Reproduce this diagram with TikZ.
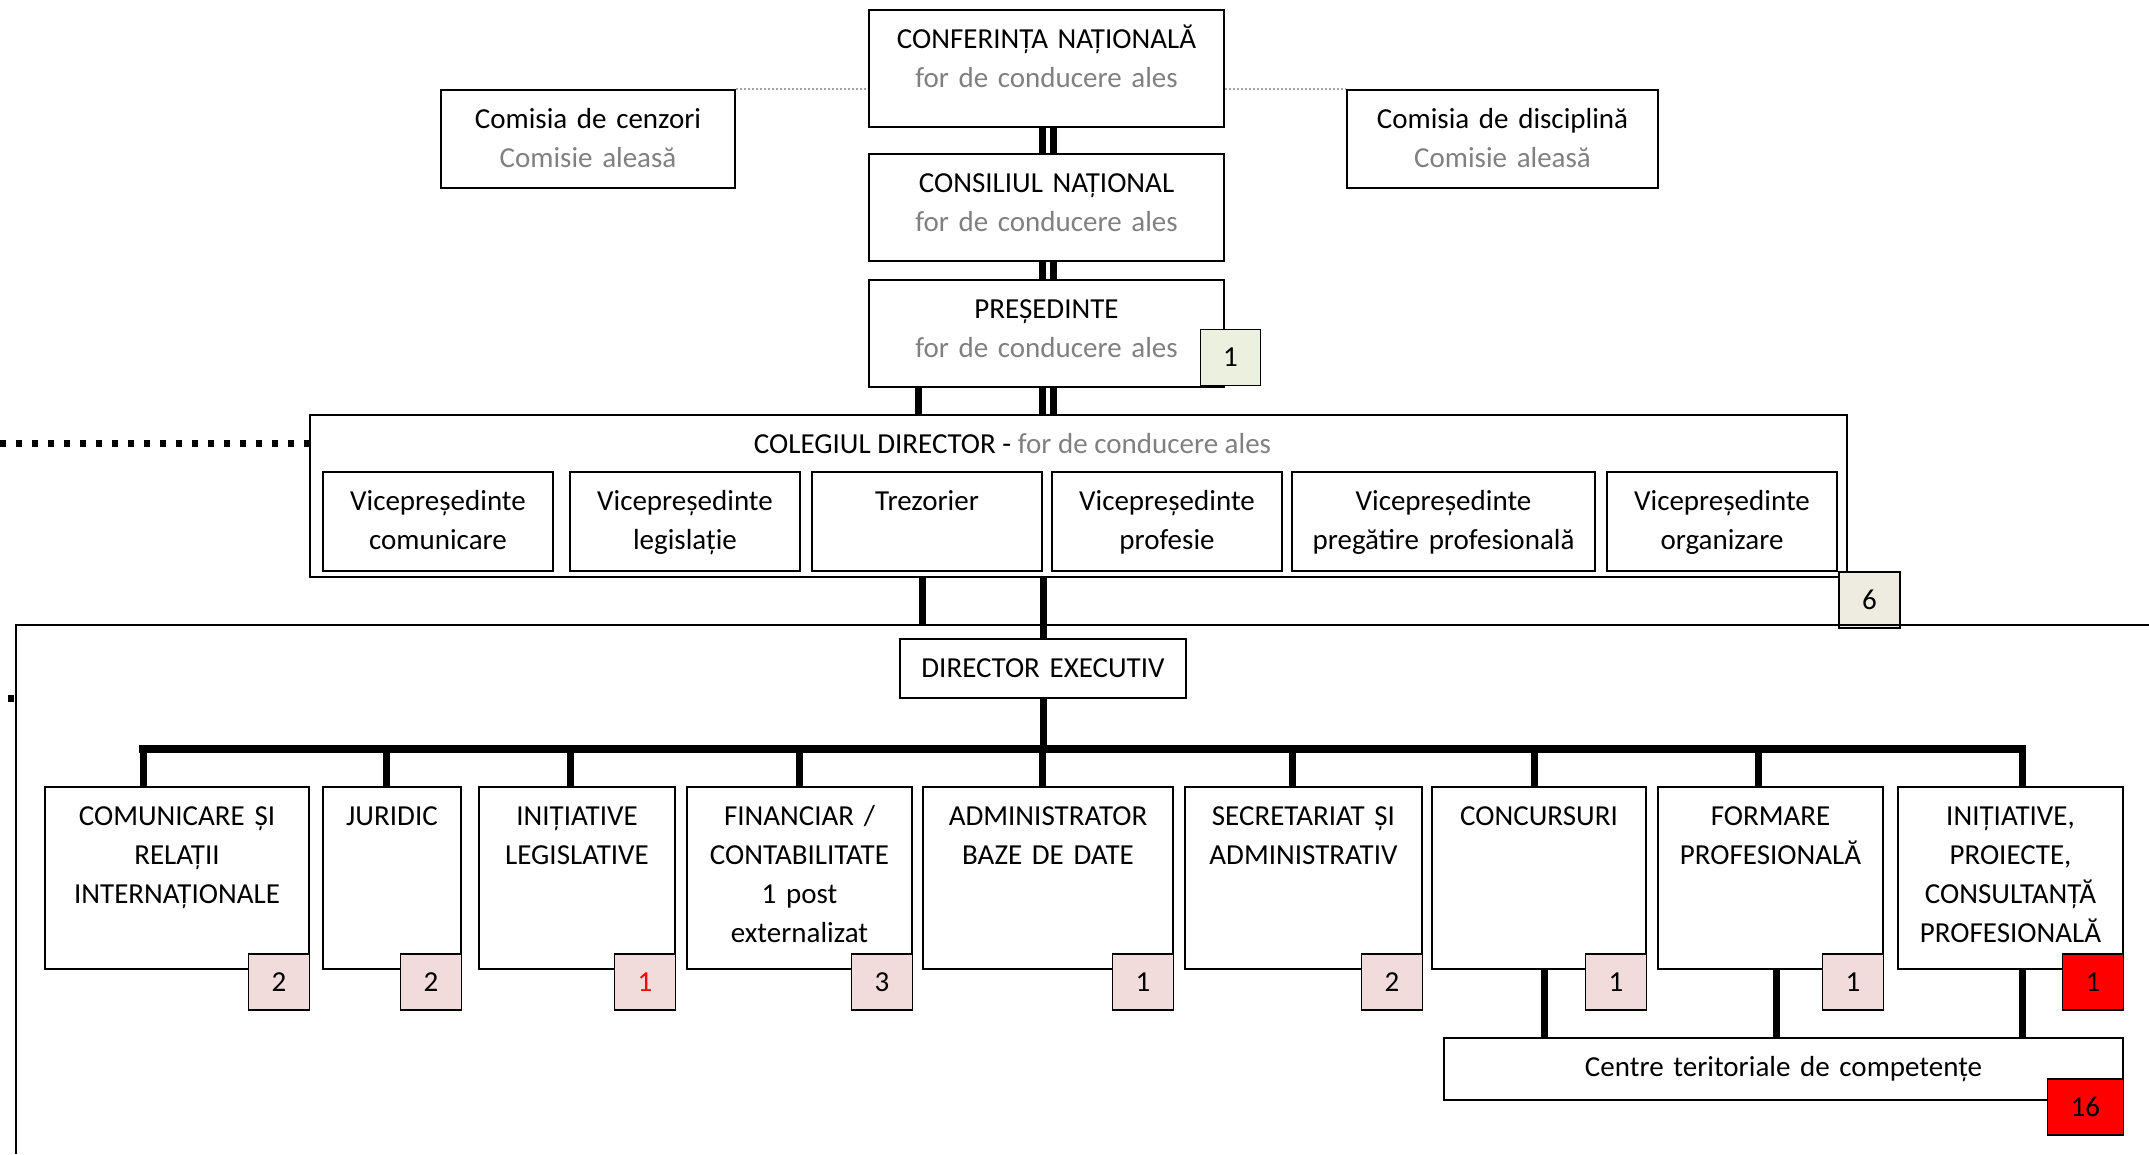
\documentclass[tikz,border=0pt]{standalone}
\usepackage{fontspec}
\setmainfont{Carlito}
\definecolor{grey}{RGB}{128,128,128}
\definecolor{chief}{RGB}{235,241,222}
\definecolor{board}{RGB}{238,236,225}
\definecolor{staff}{RGB}{242,220,219}
\definecolor{alert}{RGB}{255,0,0}
\begin{document}
\begin{tikzpicture}[x=1pt, y=-1pt, every node/.style = {font=\fontsize{29}{39}\selectfont, inner sep=0}]
	\tikzstyle{unit} = [draw, line width=2.3, align=center, text height=38]
	\tikzstyle{tally} = [draw, line width=1.5, minimum width=61, minimum height=56]
	\tikzstyle{link} = [line width=7]
	\tikzstyle{busline} = [line width=8, line cap=rect]
	\tikzstyle{elected} = [grey!70, line width=2, dash pattern=on 2pt off 2pt]
	\tikzstyle{outside} = [line width=7, dash pattern=on 6pt off 10pt]
	\tikzstyle{execframe} = [line width=2]
	\useasboundingbox (0,0) rectangle (2149,1154);
	% foruri alese
	\node[unit, text width=355, text depth=79] (conf) at (1046.5,68.5) {CONFERINȚA NAȚIONALĂ\\\textcolor{grey}{for de conducere ales}};
	\node[unit, text width=355, text depth=69] (cons) at (1046.5,207.5) {CONSILIUL NAȚIONAL\\\textcolor{grey}{for de conducere ales}};
	\node[unit, text width=355, text depth=69] (pres) at (1046.5,333.5) {PREȘEDINTE\\\textcolor{grey}{for de conducere ales}};
	\node[unit, text width=294, text depth=60] (cenz) at (588,139) {Comisia de cenzori\\\textcolor{grey}{Comisie aleasă}};
	\node[unit, text width=311, text depth=60] (disc) at (1502.5,139) {Comisia de disciplină\\\textcolor{grey}{Comisie aleasă}};
	\node[unit, text width=1537, text depth=124] (colegiul) at (1078.5,496) {};
	\node[anchor=base] (coltitle) at (1012.5,453) {COLEGIUL DIRECTOR - \textcolor{grey}{for de conducere ales}};
	\node[unit, text width=230, text depth=61] (vp1) at (438,521.5) {Vicepreședinte\\comunicare};
	\node[unit, text width=230, text depth=61] (vp2) at (685,521.5) {Vicepreședinte\\legislație};
	\node[unit, text width=230, text depth=61] (trez) at (927,521.5) {Trezorier};
	\node[unit, text width=230, text depth=61] (vp3) at (1167,521.5) {Vicepreședinte\\profesie};
	\node[unit, text width=303, text depth=61] (vp4) at (1443.5,521.5) {Vicepreședinte\\pregătire profesională};
	\node[unit, text width=230, text depth=61] (vp5) at (1722,521.5) {Vicepreședinte\\organizare};
	% aparat executiv
	\node[unit, text width=286, text depth=21] (dir) at (1043,668.5) {DIRECTOR EXECUTIV};
	\node[unit, text width=264, text depth=144] (d1) at (177,878) {COMUNICARE ȘI\\RELAȚII\\INTERNAȚIONALE};
	\node[unit, text width=138, text depth=144] (d2) at (392,878) {JURIDIC};
	\node[unit, text width=196, text depth=144] (d3) at (577,878) {INIȚIATIVE\\LEGISLATIVE};
	\node[unit, text width=225, text depth=144] (d4) at (799.5,878) {FINANCIAR /\\CONTABILITATE\\1 post\\externalizat};
	\node[unit, text width=250, text depth=144] (d5) at (1048,878) {ADMINISTRATOR\\BAZE DE DATE};
	\node[unit, text width=237, text depth=144] (d6) at (1303.5,878) {SECRETARIAT ȘI\\ADMINISTRATIV};
	\node[unit, text width=214, text depth=144] (d7) at (1539,878) {CONCURSURI};
	\node[unit, text width=225, text depth=144] (d8) at (1770.5,878) {FORMARE\\PROFESIONALĂ};
	\node[unit, text width=225, text depth=144] (d9) at (2010.5,878) {INIȚIATIVE,\\PROIECTE,\\CONSULTANȚĂ\\PROFESIONALĂ};
	\node[unit, text width=679, text depth=24] (centre) at (1783.5,1069) {Centre teritoriale de competențe};
	% posturi
	\node[tally, fill=chief, minimum width=60, anchor=south east] (pres-n) at ([xshift=36,yshift=2]pres.south east) {1};
	\node[tally, fill=board, anchor=north west] (col-n) at ([xshift=-10,yshift=7]colegiul.south east) {6};
	\node[tally, fill=staff, anchor=north east] (d1-n) at ([yshift=17]d1.south east) {2};
	\node[tally, fill=staff, anchor=north east] (d2-n) at ([yshift=17]d2.south east) {2};
	\node[tally, fill=staff, anchor=north east] (d3-n) at ([yshift=17]d3.south east) {\textcolor{alert}{1}};
	\node[tally, fill=staff, anchor=north east] (d4-n) at ([yshift=17]d4.south east) {3};
	\node[tally, fill=staff, anchor=north east] (d5-n) at ([yshift=17]d5.south east) {1};
	\node[tally, fill=staff, anchor=north east] (d6-n) at ([yshift=17]d6.south east) {2};
	\node[tally, fill=staff, anchor=north east] (d7-n) at ([yshift=17]d7.south east) {1};
	\node[tally, fill=staff, anchor=north east] (d8-n) at ([yshift=17]d8.south east) {1};
	\node[tally, fill=alert, anchor=north east] (d9-n) at ([yshift=17]d9.south east) {1};
	\node[tally, fill=alert, minimum width=76, anchor=north east] (centre-n) at ([yshift=23]centre.south east) {16};
	% legaturi
	\coordinate (exec) at (16,625);
	\coordinate (hub) at (1043,749);
	\coordinate (ext) at (0,443);
	\coordinate (ext2) at (8,698);
	\draw[elected] (cenz.north east) -- (cenz.north east -| conf.west);
	\draw[elected] (conf.east |- disc.north west) -- (disc.north west);
	\draw[link] ([xshift=-4]conf.south) -- ([xshift=-4]cons.north);
	\draw[link] ([xshift=6.5]conf.south) -- ([xshift=6.5]cons.north);
	\draw[link] ([xshift=-4]cons.south) -- ([xshift=-4]pres.north);
	\draw[link] ([xshift=6.5]cons.south) -- ([xshift=6.5]pres.north);
	\draw[link] ([xshift=-4]pres.south) -- ([xshift=-4]pres.south |- colegiul.north);
	\draw[link] ([xshift=6.5]pres.south) -- ([xshift=6.5]pres.south |- colegiul.north);
	\draw[link] ([xshift=-128]pres.south) -- ([xshift=-128]pres.south |- colegiul.north);
	\draw[outside] (ext) -- (ext -| colegiul.west);
	\draw[outside] (ext2) -- (ext2 -| exec);
	\draw[execframe] (2149,625) -- (exec) -- (16,1154);
	\draw[link] ([xshift=-156]colegiul.south) -- ([xshift=-156]colegiul.south |- exec);
	\draw[link] (dir.north |- colegiul.south) -- (dir.north);
	\draw[link] (dir.south) -- (hub);
	\draw[busline] ([xshift=-34]d1.north |- hub) -- ([xshift=11.5]d9.north |- hub);
	\draw[link] ([xshift=-34]d1.north |- hub) -- ([xshift=-34]d1.north);
	\draw[link] ([xshift=-6]d2.north |- hub) -- ([xshift=-6]d2.north);
	\draw[link] ([xshift=-7]d3.north |- hub) -- ([xshift=-7]d3.north);
	\draw[link] ([xshift=-0.5]d4.north |- hub) -- ([xshift=-0.5]d4.north);
	\draw[link] ([xshift=-6]d5.north |- hub) -- ([xshift=-6]d5.north);
	\draw[link] ([xshift=-11.5]d6.north |- hub) -- ([xshift=-11.5]d6.north);
	\draw[link] ([xshift=-5]d7.north |- hub) -- ([xshift=-5]d7.north);
	\draw[link] ([xshift=-12.5]d8.north |- hub) -- ([xshift=-12.5]d8.north);
	\draw[link] ([xshift=11.5]d9.north |- hub) -- ([xshift=11.5]d9.north);
	\draw[link] ([xshift=5]d7.south) -- ([xshift=5]d7.south |- centre.north);
	\draw[link] ([xshift=5.5]d8.south) -- ([xshift=5.5]d8.south |- centre.north);
	\draw[link] ([xshift=11.5]d9.south) -- ([xshift=11.5]d9.south |- centre.north);
\end{tikzpicture}
\end{document}
